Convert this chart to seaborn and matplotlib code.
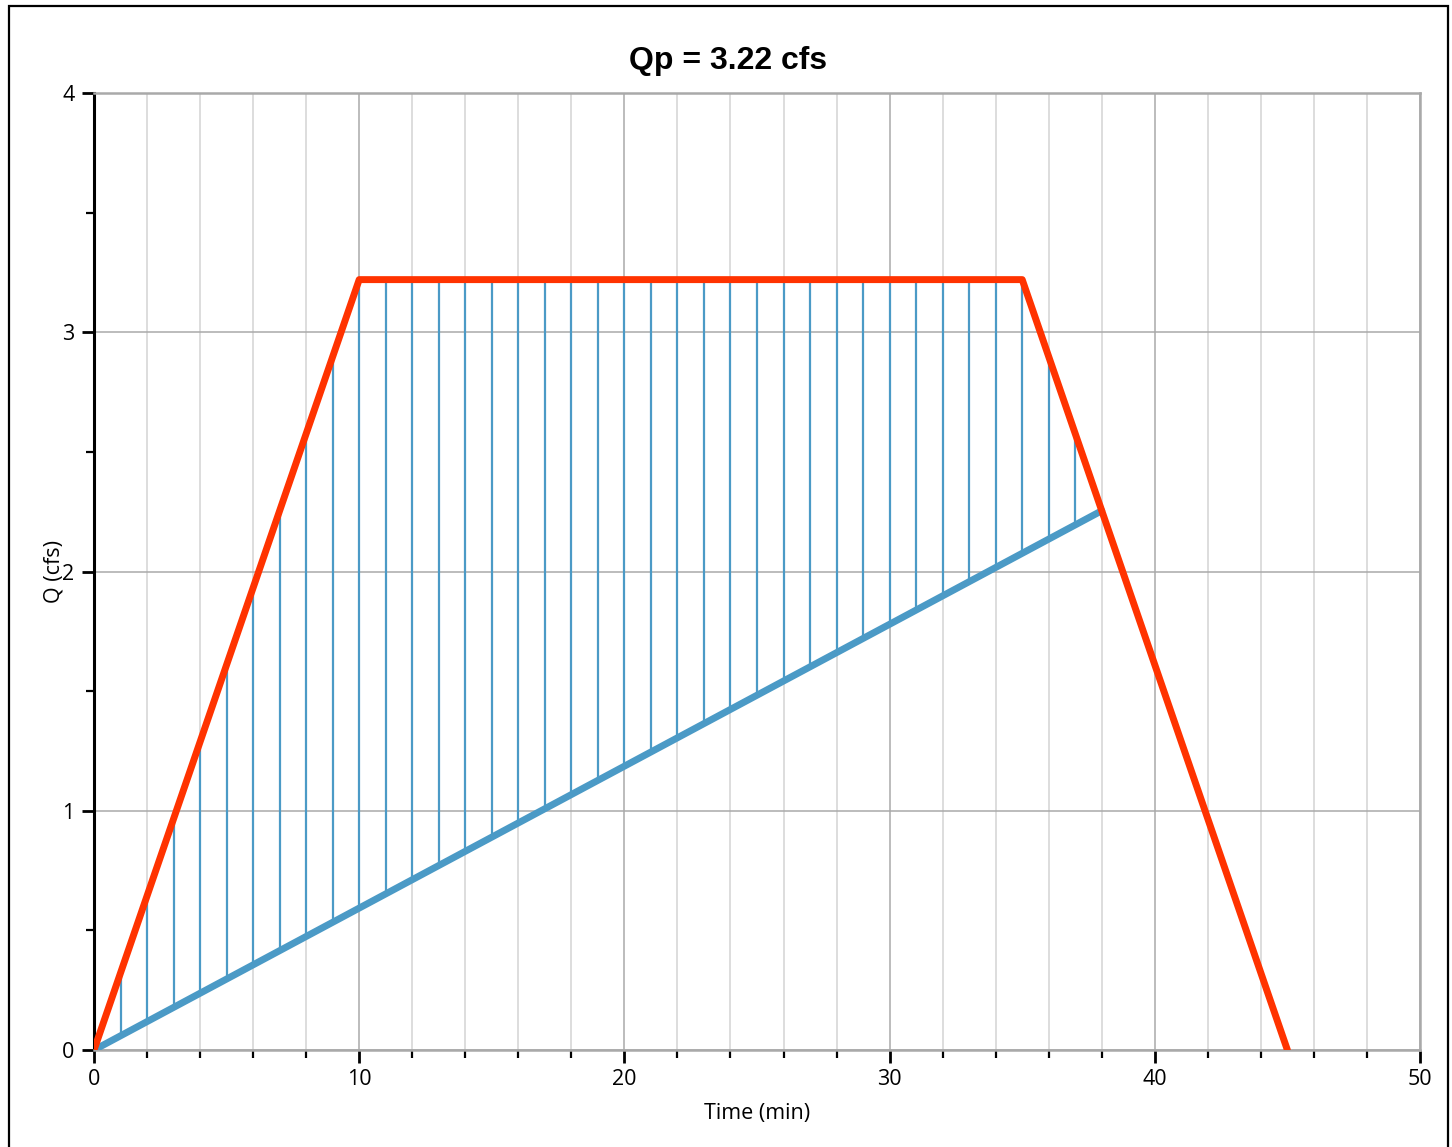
import numpy as np
import pandas as pd
import matplotlib
matplotlib.use("Agg")
import matplotlib.pyplot as plt
from matplotlib.patches import Rectangle
from matplotlib.ticker import MultipleLocator
import seaborn as sns

# ---- data ----
hydro_time = [0, 10, 35, 45]          # min
hydro_q = [0, 3.22, 3.22, 0]          # cfs
base_time = [0, 38]                   # min
base_q = [0, 2.254]                   # cfs
hatch_time = list(range(1, 38))       # vertical hatch positions (min)
title_text = "Qp = 3.22 cfs"
x_label = "Time (min)"
y_label = "Q (cfs)"

sns.set_theme(style="white")
plt.rcParams['font.family'] = ['Open Sans', 'DejaVu Sans']
plt.rcParams['text.color'] = 'black'
plt.rcParams['axes.labelcolor'] = 'black'
plt.rcParams['xtick.color'] = 'black'
plt.rcParams['ytick.color'] = 'black'

fig = plt.figure(figsize=(14.52, 11.47), dpi=100)
ax = fig.add_axes([94/1452, 1 - 1050/1147, (1420-94)/1452, (1050-93)/1147])

# figure frame
fig.patches.append(Rectangle((9/1452, -0.1), (1448-9)/1452, 1 - 6/1147 + 0.1,
                             transform=fig.transFigure, fill=False,
                             edgecolor='black', linewidth=1.6, zorder=0))

blue = '#4b9ac6'
red = '#ff3300'

# hatch lines between baseflow and hydrograph
lo = np.interp(hatch_time, base_time, base_q)
hi = np.interp(hatch_time, hydro_time, hydro_q)
ax.vlines(hatch_time, lo, hi, colors=blue, linewidth=1.6, zorder=3)

df_base = pd.DataFrame({"t": base_time, "q": base_q})
df_hydro = pd.DataFrame({"t": hydro_time, "q": hydro_q})
sns.lineplot(data=df_base, x="t", y="q", ax=ax, color=blue, linewidth=5,
             sort=False, estimator=None, zorder=4)
sns.lineplot(data=df_hydro, x="t", y="q", ax=ax, color=red, linewidth=5,
             sort=False, estimator=None, zorder=5, solid_joinstyle='round')

ax.set_xlim(0, 50)
ax.set_ylim(0, 4)
ax.xaxis.set_major_locator(MultipleLocator(10))
ax.xaxis.set_minor_locator(MultipleLocator(2))
ax.yaxis.set_major_locator(MultipleLocator(1))
ax.yaxis.set_minor_locator(MultipleLocator(0.5))

ax.grid(True, which='major', color='#a9a9a9', linewidth=1.1, zorder=0)
ax.grid(True, which='minor', axis='x', color='#d3d3d3', linewidth=1.1, zorder=0)
ax.set_axisbelow(True)

ax.tick_params(axis='both', which='major', direction='out', length=9, width=2,
               color='black', labelsize=15.5, pad=5, bottom=True, left=True,
               labelcolor='black')
ax.tick_params(axis='both', which='minor', direction='out', length=6, width=1.6,
               color='black', bottom=True, left=True)

for s in ['top', 'right', 'bottom']:
    ax.spines[s].set_color('#a9a9a9')
    ax.spines[s].set_linewidth(1.8)
ax.spines['left'].set_color('black')
ax.spines['left'].set_linewidth(2.2)

ax.set_xlabel(x_label, fontsize=15.5, labelpad=9, color='black')
ax.set_ylabel(y_label, fontsize=15.5, color='black')
ax.yaxis.set_label_coords(-0.022, 0.5)
ax.set_title(title_text, fontsize=23, fontweight='bold', color='black',
             family=['Liberation Sans', 'DejaVu Sans'], pad=17, x=0.478)

fig.savefig("out.png", dpi=100)
